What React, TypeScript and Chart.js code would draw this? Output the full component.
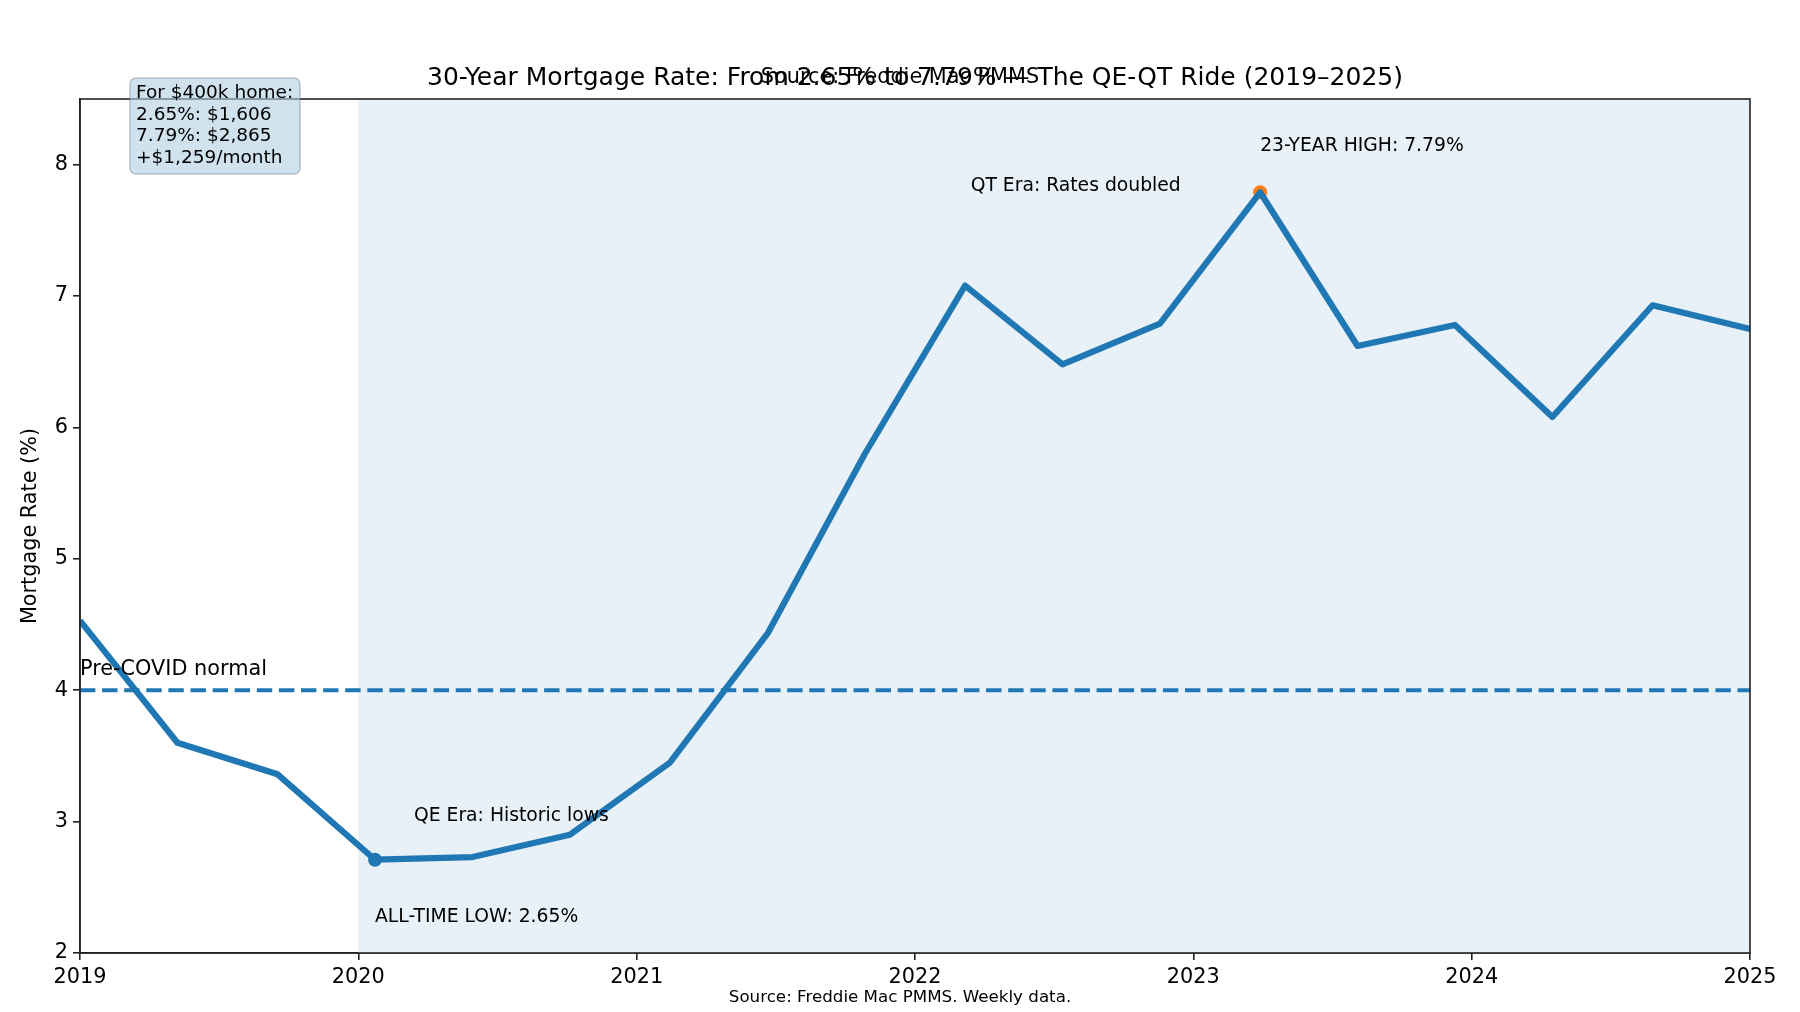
import { useEffect, useRef } from 'react';
import { Chart, registerables } from 'chart.js';

Chart.register(...registerables);

// decimal years of the samples (2019 → 2025, 18 readings)
const YEARS = [
  2019.0, 2019.35, 2019.71, 2020.06, 2020.41, 2020.76,
  2021.12, 2021.47, 2021.82, 2022.18, 2022.53, 2022.88,
  2023.24, 2023.59, 2023.94, 2024.29, 2024.65, 2025.0,
];
// 30-year fixed rate, %
const RATES = [
  4.53, 3.6, 3.36, 2.71, 2.73, 2.9,
  3.45, 4.43, 5.8, 7.08, 6.48, 6.79,
  7.79, 6.62, 6.78, 6.08, 6.93, 6.75,
];
const X_TICKS = [2019, 2020, 2021, 2022, 2023, 2024, 2025];
const Y_TICKS = [2, 3, 4, 5, 6, 7, 8];
const PRE_COVID_NORMAL = 4;
const ERA_START = 2020;
const ERA_END = 2025;

const TITLE = '30-Year Mortgage Rate: From 2.65% to 7.79% \u2014 The QE-QT Ride (2019\u20132025)';
const SUBTITLE = 'Source: Freddie Mac PMMS';
const FOOTNOTE = 'Source: Freddie Mac PMMS. Weekly data.';
const BOX_LINES = ['For $400k home:', '2.65%: $1,606', '7.79%: $2,865', '+$1,259/month'];

// text labels placed in data coordinates
const NOTES = [
  { text: '23-YEAR HIGH: 7.79%', x: 2023.24, y: 8.14, size: 18.75 },
  { text: 'QT Era: Rates doubled', x: 2022.2, y: 7.84, size: 18.75 },
  { text: 'QE Era: Historic lows', x: 2020.2, y: 3.04, size: 18.75 },
  { text: 'ALL-TIME LOW: 2.65%', x: 2020.06, y: 2.27, size: 18.75 },
  { text: 'Pre-COVID normal', x: 2019.0, y: 4.16, size: 20.8 },
];

const FONT = '"DejaVu Sans", sans-serif';
const BLUE = '#1f77b4';
const ORANGE = '#ff7f0e';
const AXIS = '#222222';

export default function App() {
  const canvasRef = useRef<HTMLCanvasElement>(null);

  useEffect(() => {
    document.body.style.margin = '0';
    if (!canvasRef.current) return;

    const lowIdx = RATES.indexOf(Math.min(...RATES));
    const highIdx = RATES.indexOf(Math.max(...RATES));

    const decor = {
      id: 'decor',
      beforeDatasetsDraw(chart: any) {
        const { ctx, chartArea, scales } = chart;
        const x0 = scales.x.getPixelForValue(ERA_START);
        const x1 = scales.x.getPixelForValue(ERA_END);
        ctx.save();
        ctx.fillStyle = 'rgb(233, 241, 248)';
        ctx.fillRect(x0, chartArea.top, x1 - x0, chartArea.bottom - chartArea.top);
        ctx.restore();
      },
      afterDatasetsDraw(chart: any) {
        const { ctx, scales } = chart;
        ctx.save();
        ctx.fillStyle = '#000';
        ctx.textBaseline = 'middle';
        ctx.textAlign = 'left';
        for (const n of NOTES) {
          ctx.font = `${n.size}px ${FONT}`;
          ctx.fillText(n.text, scales.x.getPixelForValue(n.x), scales.y.getPixelForValue(n.y));
        }
        ctx.restore();
      },
      afterDraw(chart: any) {
        const { ctx, chartArea } = chart;
        const { left, right, top, bottom } = chartArea;
        ctx.save();
        // frame
        ctx.strokeStyle = AXIS;
        ctx.lineWidth = 1.6;
        ctx.strokeRect(left, top, right - left, bottom - top);

        // titles
        ctx.fillStyle = '#000';
        ctx.textAlign = 'center';
        ctx.textBaseline = 'middle';
        ctx.font = `25px ${FONT}`;
        ctx.fillText(TITLE, (left + right) / 2, 78);
        ctx.font = `20.8px ${FONT}`;
        ctx.fillText(SUBTITLE, 900, 78);
        ctx.font = `16.7px ${FONT}`;
        ctx.fillText(FOOTNOTE, 900, 998);

        // y axis title
        ctx.save();
        ctx.translate(31, (top + bottom) / 2);
        ctx.rotate(-Math.PI / 2);
        ctx.font = `20.8px ${FONT}`;
        ctx.fillText('Mortgage Rate (%)', 0, 0);
        ctx.restore();

        // payment box
        ctx.beginPath();
        ctx.roundRect(130, 78, 170, 96, 6);
        ctx.fillStyle = 'rgba(176, 206, 226, 0.6)';
        ctx.fill();
        ctx.strokeStyle = 'rgba(120, 130, 140, 0.45)';
        ctx.lineWidth = 1.5;
        ctx.stroke();
        ctx.fillStyle = '#000';
        ctx.textAlign = 'left';
        ctx.font = `18.5px ${FONT}`;
        BOX_LINES.forEach((line, i) => ctx.fillText(line, 136, 93 + i * 21.7));
        ctx.restore();
      },
    };

    const tickFont = { family: FONT, size: 20.8 };

    const chart = new Chart(canvasRef.current, {
      type: 'line',
      data: {
        datasets: [
          {
            label: 'low',
            data: [{ x: YEARS[lowIdx], y: RATES[lowIdx] }],
            showLine: false,
            pointRadius: 7,
            pointBorderWidth: 0,
            pointBackgroundColor: BLUE,
            order: 0,
          },
          {
            label: '30Y rate',
            data: YEARS.map((x, i) => ({ x, y: RATES[i] })),
            borderColor: BLUE,
            borderWidth: 6.2,
            pointRadius: 0,
            tension: 0,
            borderJoinStyle: 'round',
            order: 1,
          },
          {
            label: 'high',
            data: [{ x: YEARS[highIdx], y: RATES[highIdx] }],
            showLine: false,
            pointRadius: 7,
            pointBorderWidth: 0,
            pointBackgroundColor: ORANGE,
            order: 2,
          },
          {
            label: 'pre-covid',
            data: [
              { x: X_TICKS[0], y: PRE_COVID_NORMAL },
              { x: X_TICKS[X_TICKS.length - 1], y: PRE_COVID_NORMAL },
            ],
            borderColor: BLUE,
            borderWidth: 4,
            borderDash: [15.4, 6.7],
            pointRadius: 0,
            order: 3,
          },
        ],
      },
      options: {
        responsive: false,
        animation: false,
        devicePixelRatio: 1,
        layout: { padding: { top: 99, right: 50, left: 0, bottom: 0 } },
        plugins: {
          legend: { display: false },
          tooltip: { enabled: false },
        },
        scales: {
          x: {
            type: 'linear',
            min: 2019,
            max: 2025,
            afterBuildTicks: (s: any) => {
              s.ticks = X_TICKS.map((value) => ({ value }));
            },
            afterFit: (s: any) => {
              s.height = 59;
            },
            grid: { drawOnChartArea: false, tickLength: 7, color: AXIS, lineWidth: 1.6 },
            border: { display: true, color: AXIS, width: 1.6 },
            ticks: {
              color: '#000',
              font: tickFont,
              padding: 5,
              maxRotation: 0,
              autoSkip: false,
              callback: (v: any) => String(v),
            },
          },
          y: {
            type: 'linear',
            min: 2,
            max: 8.5,
            afterBuildTicks: (s: any) => {
              s.ticks = Y_TICKS.map((value) => ({ value }));
            },
            afterFit: (s: any) => {
              s.width = 80;
            },
            grid: { drawOnChartArea: false, tickLength: 7, color: AXIS, lineWidth: 1.6 },
            border: { display: true, color: AXIS, width: 1.6 },
            ticks: {
              color: '#000',
              font: tickFont,
              padding: 5,
              callback: (v: any) => String(v),
            },
          },
        },
      },
      plugins: [decor],
    });

    return () => chart.destroy();
  }, []);

  return (
    <div style={{ width: 1800, height: 1012, background: '#fff' }}>
      <canvas ref={canvasRef} width={1800} height={1012} style={{ width: 1800, height: 1012 }} />
    </div>
  );
}
